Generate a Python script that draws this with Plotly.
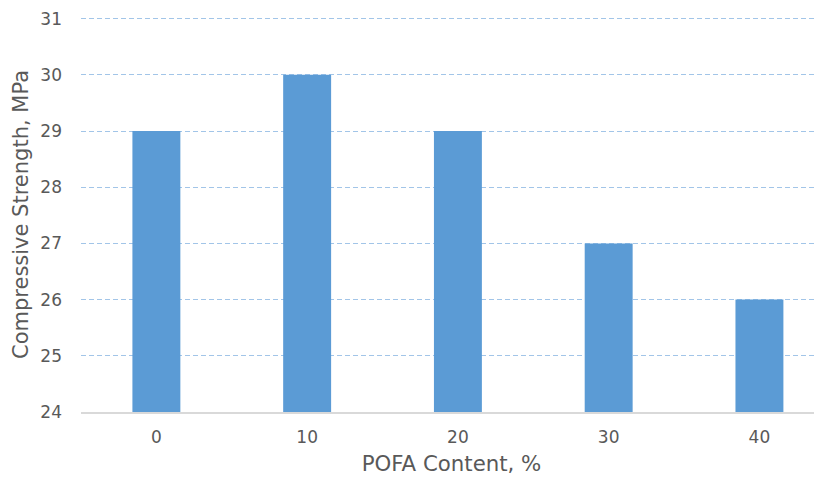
import plotly.graph_objects as go

categories = ["0", "10", "20", "30", "40"]
strength = [29, 30, 29, 27, 26]
y_ticks = [24, 25, 26, 27, 28, 29, 30, 31]

TXT = "#595959"
FONT = "'DejaVu Sans', sans-serif"

fig = go.Figure(go.Bar(
    x=categories, y=strength, marker=dict(color="#5B9BD5", line=dict(width=0)),
    width=0.318,
))

# page body has an 8px margin, so the figure is 8px smaller than the window
fig.update_layout(
    width=814, height=475,
    margin=dict(l=73, r=0, t=9, b=71),
    plot_bgcolor="white", paper_bgcolor="white",
    font=dict(family=FONT, color=TXT, size=17),
    showlegend=False,
    xaxis=dict(
        type="category", range=[-0.5, 4.415], automargin=False,
        showgrid=False, showline=True, linecolor="#D9D9D9", linewidth=1.5,
        ticks="", ticklabelstandoff=9,
        title=dict(text="POFA Content, %", font=dict(size=21.3, color=TXT), standoff=10),
        tickfont=dict(size=17, color=TXT),
    ),
    yaxis=dict(
        range=[24, 31.03], tickvals=y_ticks, showline=False, automargin=False,
        showgrid=True, gridcolor="#A2C5E8", griddash="5px,3px", gridwidth=1,
        zeroline=False, ticks="", ticklabelstandoff=18,
        title=dict(text="Compressive Strength, MPa", font=dict(size=21, color=TXT), standoff=6),
        tickfont=dict(size=17, color=TXT),
    ),
)

fig.write_html("out.html")
